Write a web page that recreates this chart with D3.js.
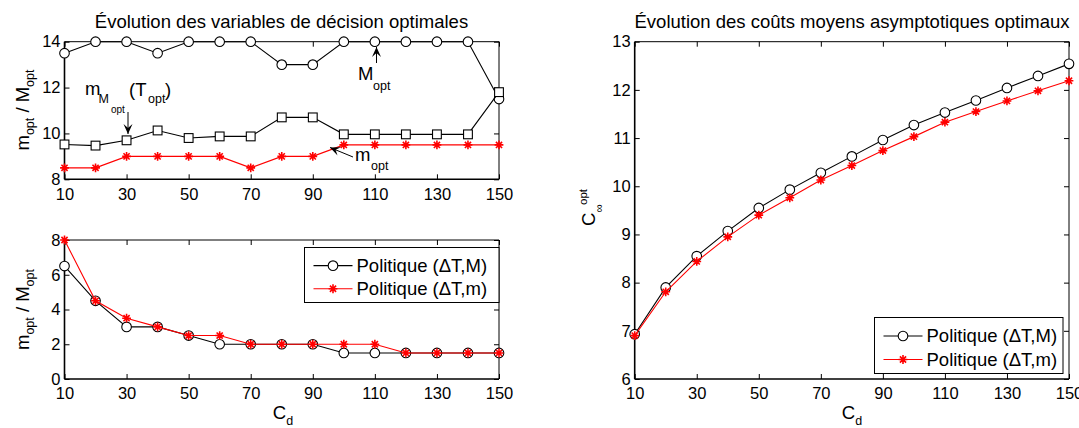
<!DOCTYPE html>
<html><head><meta charset="utf-8">
<script src="https://cdn.jsdelivr.net/npm/d3@7"></script>
<style>
body{margin:0;background:#fff;}
svg text{font-family:"Liberation Sans",Arial,Helvetica,sans-serif;fill:#000;}
</style></head>
<body>
<svg id="c" width="1079" height="428"></svg>
<script>
// ---------- data ----------
const cd = [10,20,30,40,50,60,70,80,90,100,110,120,130,140,150];
const xTicks = [10,30,50,70,90,110,130,150];
const topMopt  = [13.5,14,14,13.5,14,14,14,13,13,14,14,14,14,14,11.5];
const topMMopt = [9.52,9.47,9.70,10.13,9.80,9.87,9.87,10.70,10.70,9.96,9.96,9.96,9.96,9.96,11.8];
const topmopt  = [8.5,8.5,9,9,9,9,8.5,9,9,9.5,9.5,9.5,9.5,9.5,9.5];
const topYTicks = [8,10,12,14];
const botPolM = [6.5,4.5,3,3,2.5,2,2,2,2,1.5,1.5,1.5,1.5,1.5,1.5];
const botPolm = [8,4.5,3.5,3,2.5,2.5,2,2,2,2,2,1.5,1.5,1.5,1.5];
const botYTicks = [0,2,4,6,8];
const costPolM = [6.93,7.90,8.55,9.07,9.55,9.93,10.28,10.62,10.96,11.27,11.53,11.78,12.04,12.29,12.54];
const costPolm = [6.90,7.81,8.44,8.95,9.40,9.76,10.13,10.43,10.74,11.03,11.33,11.55,11.77,11.98,12.19];
const costYTicks = [6,7,8,9,10,11,12,13];
const legendLabels = ["Politique (\u0394T,M)","Politique (\u0394T,m)"];

const svg = d3.select("#c");
const RED = "#ff0000";
const fmt = d3.format("d");
const starPath = s => `M${-s},0H${s}M0,${-s}V${s}M${-s*0.7},${-s*0.7}L${s*0.7},${s*0.7}M${-s*0.7},${s*0.7}L${s*0.7},${-s*0.7}`;

function panel(x0,x1,y0,y1,ydom,yticks){
  const x = d3.scaleLinear().domain([10,150]).range([x0,x1]);
  const y = d3.scaleLinear().domain(ydom).range([y1,y0]);
  const g = svg.append("g");
  const ax = (sel)=>{sel.select(".domain").remove(); sel.selectAll("line").attr("stroke","#000");};
  g.append("g").attr("transform",`translate(0,${y1})`)
    .call(d3.axisBottom(x).tickValues(xTicks).tickFormat(fmt).tickSizeInner(-5).tickSizeOuter(0).tickPadding(8.5))
    .call(ax).selectAll("text").attr("font-size",16.5);
  g.append("g").attr("transform",`translate(0,${y0})`)
    .call(d3.axisTop(x).tickValues(xTicks).tickSizeInner(-5).tickSizeOuter(0).tickFormat(""))
    .call(ax);
  g.append("g").attr("transform",`translate(${x0},0)`)
    .call(d3.axisLeft(y).tickValues(yticks).tickFormat(fmt).tickSizeInner(-5).tickSizeOuter(0).tickPadding(4))
    .call(ax).selectAll("text").attr("font-size",16.5);
  g.append("g").attr("transform",`translate(${x1},0)`)
    .call(d3.axisRight(y).tickValues(yticks).tickSizeInner(-5).tickSizeOuter(0).tickFormat(""))
    .call(ax);
  g.append("line").attr("x1",x0).attr("x2",x1).attr("y1",y0).attr("y2",y0).attr("stroke","#000");
  g.append("line").attr("x1",x1).attr("x2",x1).attr("y1",y0).attr("y2",y1).attr("stroke","#000");
  g.append("line").attr("x1",x0).attr("x2",x1).attr("y1",y1).attr("y2",y1).attr("stroke","#000").attr("stroke-width",1.6);
  g.append("line").attr("x1",x0).attr("x2",x0).attr("y1",y0).attr("y2",y1).attr("stroke","#000").attr("stroke-width",1.6);
  return {x,y,g};
}

function series(p,vals,color,marker){
  const line = d3.line().x((d,i)=>p.x(cd[i])).y(d=>p.y(d));
  p.g.append("path").datum(vals).attr("d",line).attr("fill","none").attr("stroke",color).attr("stroke-width",1.1);
  const m = p.g.append("g");
  vals.forEach((v,i)=>{
    drawMarker(m,p.x(cd[i]),p.y(v),color,marker);
  });
}
function drawMarker(m,cx,cy,color,marker){
  if(marker==="circle") m.append("circle").attr("cx",cx).attr("cy",cy).attr("r",4.8).attr("fill","#fff").attr("stroke",color).attr("stroke-width",1.1);
  else if(marker==="square") m.append("rect").attr("x",cx-4.4).attr("y",cy-4.4).attr("width",8.8).attr("height",8.8).attr("fill","#fff").attr("stroke",color).attr("stroke-width",1.1);
  else m.append("path").attr("d",starPath(4.4)).attr("transform",`translate(${cx},${cy})`).attr("stroke",color).attr("stroke-width",1.6).attr("fill","none");
}

function xlabel(cx,by){
  const t = svg.append("text").attr("x",cx).attr("y",by).attr("text-anchor","middle").attr("font-size",18.5);
  t.append("tspan").text("C");
  t.append("tspan").attr("font-size",12.5).attr("dy",6).text("d");
}
function ylabelMM(bx,cy){
  const t = svg.append("text").attr("transform",`translate(${bx},${cy}) rotate(-90)`).attr("text-anchor","middle").attr("font-size",18.5);
  t.append("tspan").text("m");
  t.append("tspan").attr("font-size",12.5).attr("dy",5).text("opt");
  t.append("tspan").attr("dy",-5).text(" / M");
  t.append("tspan").attr("font-size",12.5).attr("dy",5).text("opt");
}
function arrow(x1,y1,x2,y2){
  svg.append("line").attr("x1",x1).attr("y1",y1).attr("x2",x2).attr("y2",y2).attr("stroke","#000").attr("stroke-width",1);
  const a = Math.atan2(y2-y1,x2-x1), L=10, W=4.5;
  const bx=x2-L*Math.cos(a), by=y2-L*Math.sin(a);
  const mx=x2-0.6*L*Math.cos(a), my=y2-0.6*L*Math.sin(a);
  const px=-Math.sin(a), py=Math.cos(a);
  svg.append("path").attr("d",`M${x2},${y2}L${bx+px*W},${by+py*W}L${mx},${my}L${bx-px*W},${by-py*W}Z`).attr("fill","#000");
}
function legend(x0,y0,x1,y1){
  svg.append("rect").attr("x",x0).attr("y",y0).attr("width",x1-x0).attr("height",y1-y0).attr("fill","#fff").attr("stroke","#000");
  const rows=[[legendLabels[0],"#000","circle"],[legendLabels[1],RED,"star"]];
  const h=(y1-y0);
  rows.forEach((r,i)=>{
    const yy = y0 + h*(0.33+0.42*i);
    svg.append("line").attr("x1",x0+9).attr("x2",x0+48).attr("y1",yy).attr("y2",yy).attr("stroke",r[1]).attr("stroke-width",1.1);
    drawMarker(svg,x0+28.5,yy,r[1],r[2]);
    svg.append("text").attr("x",x0+52).attr("y",yy+6.5).attr("font-size",18.5).text(r[0]);
  });
}

// ---------- top-left ----------
const p1 = panel(64.5,499,41.7,179.3,[8,14],topYTicks);
series(p1,topMopt,"#000","circle");
series(p1,topMMopt,"#000","square");
series(p1,topmopt,RED,"star");
svg.append("text").attr("x",281.5).attr("y",28).attr("text-anchor","middle").attr("font-size",18.5).text("\u00C9volution des variables de d\u00E9cision optimales");
ylabelMM(29,110);
// annotations
svg.append("text").attr("x",358).attr("y",80).attr("font-size",18.5).text("M");
svg.append("text").attr("x",373).attr("y",90).attr("font-size",12.5).text("opt");
arrow(376.5,63,376.5,47);
svg.append("text").attr("x",85).attr("y",95).attr("font-size",18.5).text("m");
svg.append("text").attr("x",98.5).attr("y",103).attr("font-size",12.5).text("M");
svg.append("text").attr("x",111).attr("y",113).attr("font-size",10).text("opt");
svg.append("text").attr("x",129).attr("y",96).attr("font-size",18.5).text("(T");
svg.append("text").attr("x",148).attr("y",103).attr("font-size",12.5).text("opt");
svg.append("text").attr("x",165).attr("y",96).attr("font-size",18.5).text(")");
arrow(128,112,128,134);
svg.append("text").attr("x",355).attr("y",161).attr("font-size",18.5).text("m");
svg.append("text").attr("x",371).attr("y",170).attr("font-size",12.5).text("opt");
arrow(353,157,330,147.5);

// ---------- bottom-left ----------
const p2 = panel(64.5,499,240,379,[0,8],botYTicks);
series(p2,botPolM,"#000","circle");
series(p2,botPolm,RED,"star");
ylabelMM(29,309.5);
xlabel(283,419);
legend(304.5,247.5,499,302.5);

// ---------- right ----------
const p3 = panel(634.7,1069,41.7,379,[6,13],costYTicks);
series(p3,costPolM,"#000","circle");
series(p3,costPolm,RED,"star");
svg.append("text").attr("x",852).attr("y",28).attr("text-anchor","middle").attr("font-size",18.5).text("\u00C9volution des co\u00FBts moyens asymptotiques optimaux");
xlabel(852,419);
{
  const g = svg.append("g").attr("transform","translate(595,226) rotate(-90)");
  g.append("text").attr("x",0).attr("y",0).attr("font-size",18.5).text("C");
  g.append("text").attr("x",13.5).attr("y",8).attr("font-size",11.5).text("\u221E");
  g.append("text").attr("x",21).attr("y",-8).attr("font-size",11.5).text("opt");
}
legend(874.5,317.5,1063,373.5);
</script>
</body></html>
